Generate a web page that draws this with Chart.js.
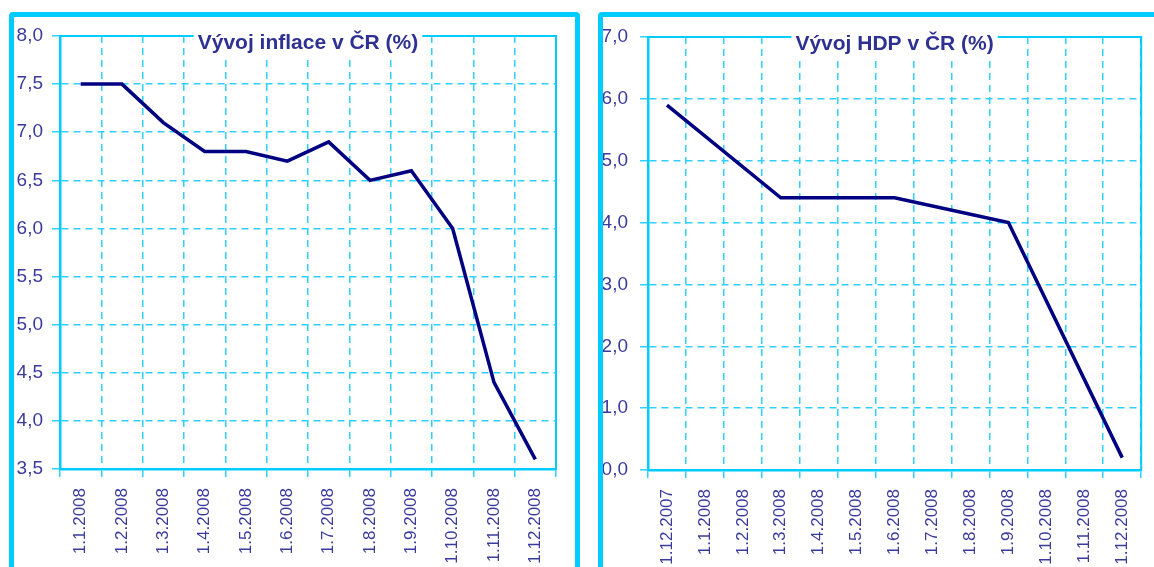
<!DOCTYPE html>
<html>
<head>
<meta charset="utf-8">
<script src="https://cdn.jsdelivr.net/npm/chart.js@4/dist/chart.umd.min.js"></script>
<style>
  body { margin: 0; background: #fff; overflow: hidden; }
  .box { position: absolute; top: 0; height: 567px; }
  .frame { position: absolute; border: 5px solid #00ccff; border-radius: 4px; pointer-events: none; }
</style>
</head>
<body>
<div class="box" style="left:0;width:580px"><canvas id="inflace"></canvas></div>
<div class="box" style="left:580px;width:574px"><canvas id="hdp"></canvas></div>
<div class="frame" style="left:9px;top:12px;width:561px;height:600px"></div>
<div class="frame" style="left:598px;top:12px;width:600px;height:600px"></div>
<script>
var inflaceTitle = "Vývoj inflace v ČR (%)";
var inflaceLabels = ["1.1.2008", "1.2.2008", "1.3.2008", "1.4.2008", "1.5.2008", "1.6.2008",
  "1.7.2008", "1.8.2008", "1.9.2008", "1.10.2008", "1.11.2008", "1.12.2008"];
var inflace = [7.5, 7.5, 7.1, 6.8, 6.8, 6.7, 6.9, 6.5, 6.6, 6.0, 4.4, 3.6];

var hdpTitle = "Vývoj HDP v ČR (%)";
var hdpLabels = ["1.12.2007", "1.1.2008", "1.2.2008", "1.3.2008", "1.4.2008", "1.5.2008", "1.6.2008",
  "1.7.2008", "1.8.2008", "1.9.2008", "1.10.2008", "1.11.2008", "1.12.2008"];
// kvartalni hodnoty, mezi nimi mezery
var hdp = [5.9, null, null, 4.4, null, null, 4.4, null, null, 4.0, null, null, 0.2];

var cyan = "#00ccff";
var gridCyan = "#2fd0ff";
var textBlue = "#3b3b9c";
var fontName = "'Liberation Sans', Arial, sans-serif";

var frameTitle = {
  id: "frameTitle",
  afterDraw: function(chart) {
    var ctx = chart.ctx;
    var a = chart.chartArea;
    var t = chart.options.plugins.frameTitle.text;
    ctx.save();
    ctx.strokeStyle = cyan;
    ctx.lineWidth = 2;
    ctx.strokeRect(a.left, a.top, a.right - a.left, a.bottom - a.top);
    ctx.font = "bold 21px " + fontName;
    var w = ctx.measureText(t).width;
    var cx = (a.left + a.right) / 2;
    ctx.fillStyle = "#fff";
    ctx.fillRect(cx - w / 2 - 4, a.top - 8, w + 8, 32);
    ctx.fillStyle = "#2e3192";
    ctx.textAlign = "center";
    ctx.textBaseline = "middle";
    ctx.fillText(t, cx, a.top + 7);
    ctx.restore();
  }
};

function makeChart(id, labels, data, title, ymin, ymax, step, yw, xh, pad, tickPad) {
  return new Chart(document.getElementById(id), {
    type: "line",
    data: {
      labels: labels,
      datasets: [{
        data: data,
        borderColor: "#000080",
        borderWidth: 3.5,
        pointRadius: 0,
        tension: 0,
        spanGaps: true
      }]
    },
    options: {
      responsive: true,
      maintainAspectRatio: false,
      animation: false,
      layout: { padding: pad },
      plugins: {
        legend: { display: false },
        tooltip: { enabled: false },
        frameTitle: { text: title }
      },
      scales: {
        x: {
          offset: true,
          grid: { offset: true, color: gridCyan, lineWidth: 1.5, tickLength: 8 },
          border: { color: cyan, width: 2.5, dash: [7, 5] },
          ticks: {
            color: textBlue, minRotation: 90, maxRotation: 90, autoSkip: false, padding: 11,
            font: { family: fontName, size: 17 }
          },
          afterFit: function(s) { s.height = xh; }
        },
        y: {
          min: ymin, max: ymax,
          grid: { color: gridCyan, lineWidth: 1.5, tickLength: 8 },
          border: { color: cyan, width: 2.5, dash: [7, 5] },
          ticks: {
            stepSize: step, color: textBlue, padding: tickPad,
            font: { family: fontName, size: 19 },
            callback: function(v) { return v.toFixed(1).replace(".", ","); }
          },
          afterFit: function(s) { s.width = yw; }
        }
      }
    },
    plugins: [frameTitle]
  });
}

makeChart("inflace", inflaceLabels, inflace, inflaceTitle, 3.5, 8, 0.5, 60, 98,
  { top: 36, right: 24, left: 0, bottom: 0 }, 9);
makeChart("hdp", hdpLabels, hdp, hdpTitle, 0, 7, 1, 68, 97,
  { top: 37, right: 10, left: 0, bottom: 0 }, 12);
</script>
</body>
</html>
